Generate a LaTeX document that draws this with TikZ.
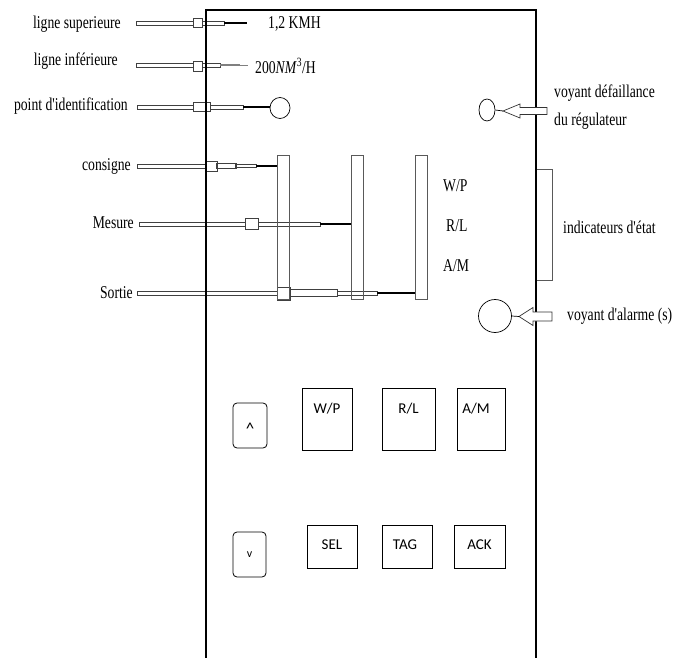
\documentclass[tikz,border=0pt]{standalone}
\usepackage{fontspec}
\usetikzlibrary{shapes.geometric}
\newfontfamily\tms[FakeStretch=0.76]{Liberation Serif}
\newfontfamily\btnfont{Carlito}
\begin{document}
\begin{tikzpicture}[x=1pt,y=-1pt,
  cab/.style={draw=black!75, line width=0.6pt, fill=white},
  cabtip/.style={line width=1.7pt, black},
  bar/.style={draw=black!65, line width=0.9pt},
  lbl/.style={font=\tms\fontsize{18}{20}\selectfont, inner sep=0pt},
  btn/.style={draw, line width=0.8pt, inner sep=0pt},
  btxt/.style={font=\btnfont\fontsize{15}{17}\selectfont, inner sep=0pt},
  harrow/.style={draw=black!80, line width=0.7pt, fill=white}]
\useasboundingbox (0,0) rectangle (675,658);
% cables
\draw[cab] (136,21) rectangle (193,25);
\draw[cab] (193,18.5) rectangle (202,27.5);
\draw[cab] (202,21) rectangle (224,25);
\draw[cabtip] (224,23) -- (247,23);
\draw[cab] (136,63) rectangle (193,67);
\draw[cab] (193,61) rectangle (202,71);
\draw[cab] (202,63) rectangle (220,67);
\draw[gray, line width=2.2pt] (220,65) -- (240,65);
\draw[gray, line width=0.8pt] (240,65) -- (248,65);
\draw[cab] (137,105) rectangle (193,109);
\draw[cab] (193,102.5) rectangle (210,111.5);
\draw[cab] (210,105) rectangle (243,109);
\draw[cabtip] (243,107) -- (270,107);
\node[draw, ellipse, minimum width=20pt, minimum height=21pt, inner sep=0pt, line width=0.7pt] (idc) at (280,108) {};
\draw[cab] (137,164) rectangle (205,168);
\draw[cab] (205,161.5) rectangle (217,171);
\draw[cab, line width=1.1pt] (217,163.5) rectangle (236,168.5);
\draw[cab] (236,164.5) rectangle (256,167.5);
\draw[cabtip] (256,166) -- (277,166);
\draw[cab] (139,222) rectangle (245,226);
\draw[cab] (245,218.5) rectangle (258,229);
\draw[cab] (258,222) rectangle (320,226);
\draw[cabtip] (320,224) -- (351,224);
\draw[cab] (137,291) rectangle (277,295);
\draw[cab] (277,287) rectangle (290,300);
\draw[cab] (290,289.5) rectangle (337,296.5);
\draw[cab] (337,291) rectangle (377,295);
\draw[cabtip] (377,293) -- (415,293);
% bars
\draw[bar] (277,155) rectangle (289,299);
\draw[bar] (351,155) rectangle (363,299);
\draw[bar] (415,155) rectangle (427,299);
% panel
\draw[line width=1.1pt] (206,658) -- (206,10) -- (536,10) -- (536,658);
% left labels
\node[lbl, anchor=east] (t1) at (121,24) {ligne superieure};
\node[lbl, anchor=east] (t2) at (118,61) {ligne inférieure};
\node[lbl, anchor=east] (t3) at (128,106) {point d'identification};
\node[lbl, anchor=east] (t4) at (131,166) {consigne};
\node[lbl, anchor=east] (t5) at (134,223) {Mesure};
\node[lbl, anchor=east] (t6) at (133,293) {Sortie};
\node[lbl, anchor=west] (v1) at (268,24) {1,2 KMH};
\node[lbl, anchor=west] (v2) at (255,66) {200\textit{NM}\textsuperscript{3}/H};
\node[lbl, anchor=west] (s1) at (443,186) {W/P};
\node[lbl, anchor=west] (s2) at (446,226) {R/L};
\node[lbl, anchor=west] (s3) at (443,266) {A/M};
% right side
\node[draw, ellipse, minimum width=16pt, minimum height=22pt, inner sep=0pt, line width=0.7pt] (fail) at (487,110) {};
\draw[harrow] (547,107.5) -- (520,107.5) -- (520,104) -- (503,111) -- (520,118) -- (520,114.5) -- (547,114.5) -- cycle;
\draw[line width=0.7pt] (fail.east) -- (503,111);
\node[lbl, anchor=west] (r1) at (554,93) {voyant défaillance};
\node[lbl, anchor=west] (r2) at (554,121) {du régulateur};
\draw[draw=black!65, line width=1pt] (537,170) -- (552,170) -- (552,280) -- (537,280);
\node[lbl, anchor=west] (r3) at (563,227) {indicateurs d'état};
\node[draw, circle, minimum size=33pt, inner sep=0pt, line width=0.7pt] (alarm) at (495,316) {};
\draw[harrow] (552,312) -- (533,312) -- (533,307.5) -- (519,316.5) -- (533,325.5) -- (533,321) -- (552,321) -- cycle;
\draw[line width=0.7pt] (alarm.east) -- (519,316.5);
\node[lbl, anchor=west] (r4) at (567,316) {voyant d'alarme (s)};
% buttons
\node[btn, rounded corners=4pt, minimum width=34pt, minimum height=45pt] (up) at (250,425.5) {};
\node[btxt, font=\btnfont\fontsize{17}{19}\selectfont] at ([yshift=-3pt]up) {\textasciicircum};
\node[btn, minimum width=50pt, minimum height=62pt] (wp) at (327,419) {};
\node[btxt] at ([yshift=-21pt]wp.north) {W/P};
\node[btn, minimum width=53pt, minimum height=62pt] (rl) at (408.5,419) {};
\node[btxt] at ([yshift=-21pt]rl.north) {R/L};
\node[btn, minimum width=48pt, minimum height=62pt] (am) at (481,419) {};
\node[btxt] at ([yshift=-21pt,xshift=-5pt]am.north) {A/M};
\node[btn, rounded corners=4pt, minimum width=33pt, minimum height=45pt] (down) at (249.5,554.5) {};
\node[btxt, font=\btnfont\fontsize{12}{14}\selectfont] at (down) {v};
\node[btn, minimum width=50pt, minimum height=43pt] (sel) at (332,546.5) {};
\node[btxt] at ([yshift=-20pt]sel.north) {SEL};
\node[btn, minimum width=50pt, minimum height=43pt] (tag) at (407,546.5) {};
\node[btxt] at ([yshift=-20pt,xshift=-2pt]tag.north) {TAG};
\node[btn, minimum width=51pt, minimum height=43pt] (ack) at (479.5,546.5) {};
\node[btxt] at ([yshift=-20pt]ack.north) {ACK};
\end{tikzpicture}
\end{document}
